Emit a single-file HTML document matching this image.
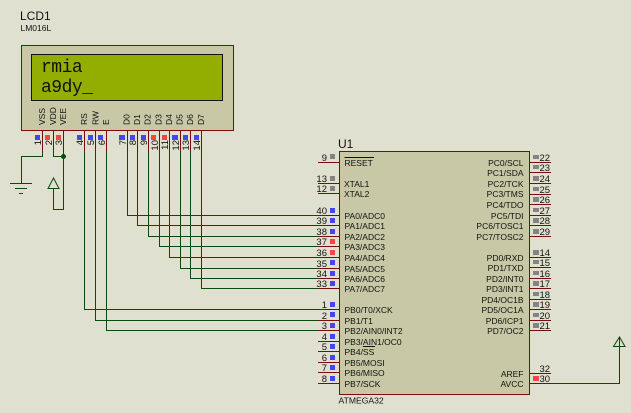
<!DOCTYPE html>
<html><head><meta charset="utf-8"><style>
html,body{margin:0;padding:0;background:#e0e0d0;width:631px;height:413px;overflow:hidden}
svg{display:block}
text{font-family:"Liberation Sans",sans-serif;fill:#111}
.l{font-size:8.5px}
.r{font-size:8.5px;text-anchor:end}
.n{font-size:9.5px;text-anchor:end}
.m{font-size:9.5px}
.v{font-size:8.5px}
.p{font-size:9.5px;text-anchor:end}
.lcd{font-family:"Liberation Mono",monospace;font-size:18px;letter-spacing:-.5px;fill:#111}
.R{stroke:#7a0c0c;stroke-width:1;fill:none}
.G{stroke:#0a4a0a;stroke-width:1;fill:none}
.b{fill:#4646f0}.e{fill:#f54646}.y{fill:#848484}
</style></head><body>
<svg width="631" height="413" viewBox="0 0 631 413" xmlns="http://www.w3.org/2000/svg">
<rect width="631" height="413" fill="#e0e0d0"/>
<text x="20" y="20" font-size="12">LCD1</text>
<text x="20.5" y="31" font-size="8.5">LM016L</text>
<rect x="21.5" y="45.5" width="212" height="85" fill="#c8c8a6" stroke="#7a0c0c"/>
<rect x="31.5" y="54.5" width="191" height="46" fill="#94ae00" stroke="#111"/>
<text class="lcd" x="41" y="72">rmia</text>
<text class="lcd" x="41" y="92">a9dy_</text>
<g class="v">
<text transform="translate(45,125) rotate(-90)">VSS</text>
<text transform="translate(56,125) rotate(-90)">VDD</text>
<text transform="translate(66,125) rotate(-90)">VEE</text>
<text transform="translate(87,125) rotate(-90)">RS</text>
<text transform="translate(98.5,125) rotate(-90)">RW</text>
<text transform="translate(109,125) rotate(-90)">E</text>
<text transform="translate(129.5,125) rotate(-90)">D0</text>
<text transform="translate(140,125) rotate(-90)">D1</text>
<text transform="translate(150.5,125) rotate(-90)">D2</text>
<text transform="translate(161.5,125) rotate(-90)">D3</text>
<text transform="translate(172,125) rotate(-90)">D4</text>
<text transform="translate(182.5,125) rotate(-90)">D5</text>
<text transform="translate(193,125) rotate(-90)">D6</text>
<text transform="translate(204,125) rotate(-90)">D7</text>
</g>
<path class="R" d="M42.5 131V152M53.5 131V152M63.5 131V152M84.5 131V152M95.5 131V152M106.5 131V152M127.5 131V152M137.5 131V152M148.5 131V152M159.5 131V152M169.5 131V152M180.5 131V152M190.5 131V152M201.5 131V152"/>
<rect class="b" x="35" y="135" width="5" height="5"/><rect class="e" x="45" y="135" width="5" height="5"/><rect class="e" x="56" y="135" width="5" height="5"/>
<rect class="b" x="77" y="135" width="5" height="5"/><rect class="b" x="88" y="135" width="5" height="5"/><rect class="b" x="98" y="135" width="5" height="5"/>
<rect class="b" x="119" y="135" width="6" height="5"/><rect class="b" x="130" y="135" width="5" height="5"/><rect class="b" x="141" y="135" width="5" height="5"/>
<rect class="e" x="151" y="135" width="5" height="5"/><rect class="e" x="162" y="135" width="5" height="5"/><rect class="b" x="172" y="135" width="6" height="5"/>
<rect class="b" x="183" y="135" width="5" height="5"/><rect class="b" x="194" y="135" width="5" height="5"/>
<g class="p">
<text transform="translate(41,140) rotate(-90)">1</text>
<text transform="translate(52,140) rotate(-90)">2</text>
<text transform="translate(62,140) rotate(-90)">3</text>
<text transform="translate(83,140) rotate(-90)">4</text>
<text transform="translate(94,140) rotate(-90)">5</text>
<text transform="translate(105,140) rotate(-90)">6</text>
<text transform="translate(126,140) rotate(-90)">7</text>
<text transform="translate(136,140) rotate(-90)">8</text>
<text transform="translate(147,140) rotate(-90)">9</text>
<text transform="translate(158,140) rotate(-90)">10</text>
<text transform="translate(168,140) rotate(-90)">11</text>
<text transform="translate(179,140) rotate(-90)">12</text>
<text transform="translate(189,140) rotate(-90)">13</text>
<text transform="translate(200,140) rotate(-90)">14</text>
</g>
<path class="G" d="M42.5 152V156.5H21.5V183M10 183.5H32M15 188.5H27M19 193.5H23"/>
<path class="G" d="M53.5 152V156.5H63.5M63.5 152V209.5H53.5V188M48 188.5H59L53.5 178Z"/>
<circle cx="63.5" cy="156.5" r="2.5" fill="#0a4a0a"/>
<path class="G" d="M84.5 152V309.5H318M95.5 152V320.5H318M106.5 152V330.5H318"/>
<path class="G" d="M127.5 152V215.5H318M137.5 152V225.5H318M148.5 152V236.5H318M159.5 152V246.5H318M169.5 152V257.5H318M180.5 152V268.5H318M190.5 152V278.5H318M201.5 152V288.5H318"/>
<text x="338" y="148" font-size="12">U1</text>
<rect x="339.5" y="151.5" width="190" height="243" fill="#c8c8a6" stroke="#7a0c0c"/>
<text x="338.5" y="403.5" font-size="8.6">ATMEGA32</text>
<path class="R" d="M318 162.5H339M318 183.5H339M318 193.5H339M318 215.5H339M318 225.5H339M318 236.5H339M318 246.5H339M318 257.5H339M318 268.5H339M318 278.5H339M318 288.5H339M318 309.5H339M318 320.5H339M318 330.5H339M318 341.5H339M318 351.5H339M318 362.5H339M318 372.5H339M318 383.5H339"/>
<path class="R" d="M530 162.5H551M530 172.5H551M530 183.5H551M530 194.5H551M530 204.5H551M530 215.5H551M530 225.5H551M530 236.5H551M530 257.5H551M530 267.5H551M530 278.5H551M530 288.5H551M530 299.5H551M530 309.5H551M530 320.5H551M530 330.5H551M530 373.5H551M530 383.5H551"/>
<path class="G" d="M551 383.5H619.5V337M613.5 346.5H625L619.5 337Z"/>
<g class="y">
<rect x="330" y="154" width="5" height="5"/><rect x="330" y="176" width="5" height="5"/><rect x="330" y="186" width="5" height="5"/>
</g>
<g class="b">
<rect x="330" y="208" width="5" height="5"/><rect x="330" y="218" width="5" height="5"/><rect x="330" y="229" width="5" height="5"/>
<rect x="330" y="260" width="5" height="5"/><rect x="330" y="271" width="5" height="5"/><rect x="330" y="281" width="5" height="5"/>
<rect x="330" y="302" width="5" height="5"/><rect x="330" y="312" width="5" height="5"/><rect x="330" y="323" width="5" height="5"/>
<rect x="330" y="334" width="5" height="5"/><rect x="330" y="344" width="5" height="5"/><rect x="330" y="355" width="5" height="5"/>
<rect x="330" y="365" width="5" height="5"/><rect x="330" y="376" width="5" height="5"/>
</g>
<g class="e"><rect x="330" y="239" width="5" height="5"/><rect x="330" y="250" width="5" height="5"/><rect x="533" y="376" width="6" height="5"/></g>
<g class="y">
<rect x="533" y="155" width="6" height="4"/><rect x="533" y="165" width="6" height="4"/><rect x="533" y="176" width="6" height="5"/><rect x="533" y="187" width="6" height="4"/>
<rect x="533" y="197" width="6" height="5"/><rect x="533" y="208" width="6" height="4"/><rect x="533" y="218" width="6" height="5"/><rect x="533" y="229" width="6" height="5"/>
<rect x="533" y="250" width="6" height="5"/><rect x="533" y="260" width="6" height="4"/><rect x="533" y="271" width="6" height="4"/><rect x="533" y="281" width="6" height="5"/>
<rect x="533" y="292" width="6" height="4"/><rect x="533" y="302" width="6" height="5"/><rect x="533" y="313" width="6" height="4"/><rect x="533" y="323" width="6" height="5"/>
</g>
<g class="n">
<text x="327" y="161">9</text><text x="327" y="182">13</text><text x="327" y="192">12</text>
<text x="327" y="214">40</text><text x="327" y="224">39</text><text x="327" y="235">38</text><text x="327" y="245">37</text><text x="327" y="256">36</text><text x="327" y="267">35</text><text x="327" y="277">34</text><text x="327" y="287">33</text>
<text x="327" y="308">1</text><text x="327" y="319">2</text><text x="327" y="329">3</text><text x="327" y="340">4</text><text x="327" y="350">5</text><text x="327" y="361">6</text><text x="327" y="371">7</text><text x="327" y="382">8</text>
</g>
<g class="m">
<text x="539.5" y="161">22</text><text x="539.5" y="171">23</text><text x="539.5" y="182">24</text><text x="539.5" y="193">25</text><text x="539.5" y="203">26</text><text x="539.5" y="214">27</text><text x="539.5" y="224">28</text><text x="539.5" y="235">29</text>
<text x="539.5" y="256">14</text><text x="539.5" y="266">15</text><text x="539.5" y="277">16</text><text x="539.5" y="287">17</text><text x="539.5" y="298">18</text><text x="539.5" y="308">19</text><text x="539.5" y="319">20</text><text x="539.5" y="329">21</text>
<text x="539.5" y="372">32</text><text x="539.5" y="382">30</text>
</g>
<g class="l">
<text x="344.5" y="166">RESET</text>
<text x="344" y="187">XTAL1</text><text x="344" y="197">XTAL2</text>
<text x="344.5" y="219">PA0/ADC0</text><text x="344.5" y="229">PA1/ADC1</text><text x="344.5" y="240">PA2/ADC2</text><text x="344.5" y="250">PA3/ADC3</text><text x="344.5" y="261">PA4/ADC4</text><text x="344.5" y="272">PA5/ADC5</text><text x="344.5" y="282">PA6/ADC6</text><text x="344.5" y="292">PA7/ADC7</text>
<text x="344.5" y="313">PB0/T0/XCK</text><text x="344.5" y="324">PB1/T1</text><text x="344.5" y="334">PB2/AIN0/INT2</text><text x="344.5" y="345">PB3/AIN1/OC0</text><text x="344.5" y="355">PB4/SS</text><text x="344.5" y="366">PB5/MOSI</text><text x="344.5" y="376">PB6/MISO</text><text x="344.5" y="387">PB7/SCK</text>
</g>
<path stroke="#111" stroke-width="1" fill="none" d="M344.5 157.5H374M363 346.5H375"/>
<g class="r">
<text x="523.5" y="166">PC0/SCL</text><text x="523.5" y="176">PC1/SDA</text><text x="523.5" y="187">PC2/TCK</text><text x="523.5" y="197">PC3/TMS</text><text x="523.5" y="208">PC4/TDO</text><text x="523.5" y="219">PC5/TDI</text><text x="523.5" y="229">PC6/TOSC1</text><text x="523.5" y="240">PC7/TOSC2</text>
<text x="523.5" y="261">PD0/RXD</text><text x="523.5" y="271">PD1/TXD</text><text x="523.5" y="282">PD2/INT0</text><text x="523.5" y="292">PD3/INT1</text><text x="523.5" y="303">PD4/OC1B</text><text x="523.5" y="313">PD5/OC1A</text><text x="523.5" y="324">PD6/ICP1</text><text x="523.5" y="334">PD7/OC2</text>
<text x="523.5" y="377">AREF</text><text x="523.5" y="387">AVCC</text>
</g>
</svg>
</body></html>
